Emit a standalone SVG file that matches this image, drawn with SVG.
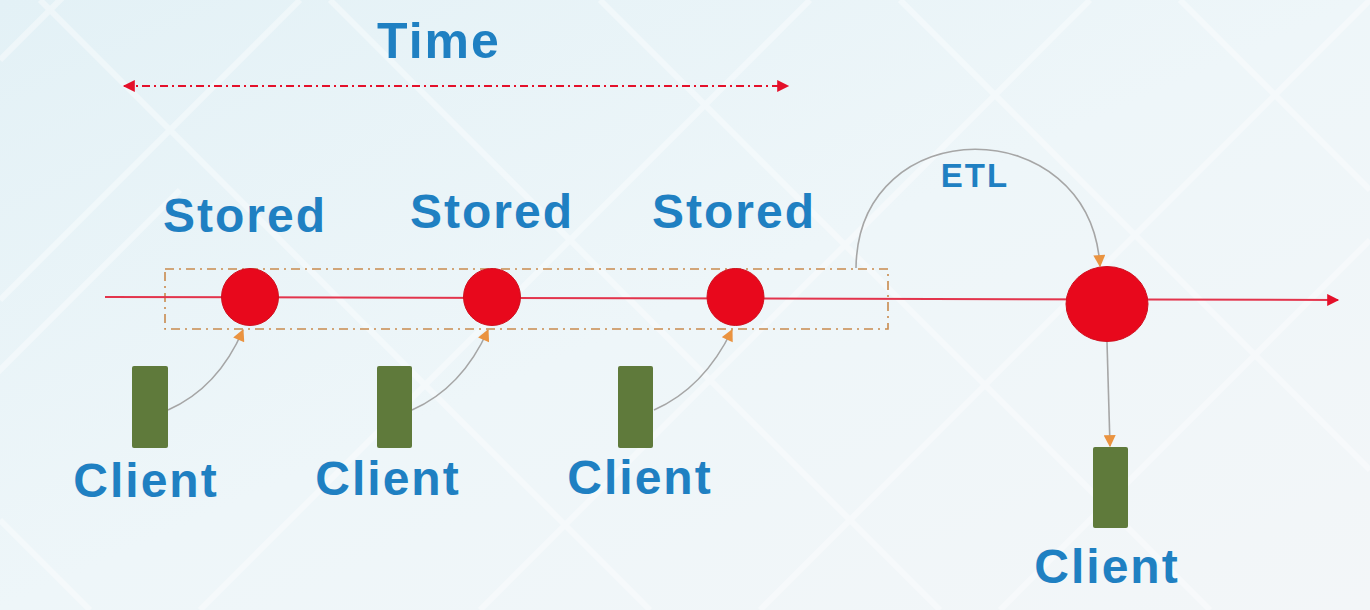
<svg xmlns="http://www.w3.org/2000/svg" width="1370" height="610" viewBox="0 0 1370 610">
  <defs>
    <linearGradient id="bg" x1="0" y1="0" x2="1" y2="1">
      <stop offset="0" stop-color="#e3f1f6"/>
      <stop offset="0.5" stop-color="#eef6f9"/>
      <stop offset="1" stop-color="#f3f6f8"/>
    </linearGradient>
    <marker id="arrOrange" viewBox="0 0 10 10" refX="9" refY="5" markerWidth="14" markerHeight="12" markerUnits="userSpaceOnUse" orient="auto">
      <path d="M0,0 L10,5 L0,10 Z" fill="#ea9340"/>
    </marker>
    <marker id="arrRed" viewBox="0 0 10 10" refX="9" refY="5" markerWidth="14" markerHeight="12" markerUnits="userSpaceOnUse" orient="auto">
      <path d="M0,0 L10,5 L0,10 Z" fill="#e4102a"/>
    </marker>
    <marker id="arrRedStart" viewBox="0 0 10 10" refX="1" refY="5" markerWidth="14" markerHeight="12" markerUnits="userSpaceOnUse" orient="auto">
      <path d="M10,0 L0,5 L10,10 Z" fill="#e4102a"/>
    </marker>
  </defs>
  <style>
    .lbl { font-family: "Liberation Sans", Arial, sans-serif; font-weight: bold; fill: #1f80c2; text-anchor: middle; }
    .big { font-size: 48px; letter-spacing: 2px; }
    .stored { fill: #e8081c; stroke: #d0101e; stroke-width: 1; }
    .client { fill: #5f7a3b; }
    .conn { fill: none; stroke: #a6a6a6; stroke-width: 1.6; }
    .bgline { stroke: #ffffff; stroke-width: 6; opacity: 0.4; fill: none; }
  </style>

  <rect x="0" y="0" width="1370" height="610" fill="url(#bg)"/>
  <g id="background-lines">
    <path class="bgline" d="M0,60 L120,-60 M0,300 L300,0 M200,610 L810,0 M-50,420 L180,190 M40,0 L650,610 M330,0 L940,610 M600,0 L1210,610 M900,0 L1370,470 M1180,0 L1370,190 M1000,610 L1370,240 M760,610 L1370,0 M480,610 L1090,0 M0,520 L90,610"/>
  </g>

  <g id="time-label">
    <text class="lbl" x="439" y="58" font-size="50" letter-spacing="2">Time</text>
  </g>
  <g id="time-arrow">
    <path d="M124,86 L788,86" stroke="#e4102a" stroke-width="1.8" stroke-dasharray="8,4,2,4" fill="none" marker-start="url(#arrRedStart)" marker-end="url(#arrRed)"/>
  </g>

  <g id="window">
    <rect x="165" y="269" width="723" height="60" fill="none" stroke="#c98a4e" stroke-width="1.6" stroke-dasharray="9,5,2,5"/>
  </g>

  <g id="connectors">
    <path id="timeline" d="M105,297 L1338,300" stroke="#e3344c" stroke-width="2" fill="none" marker-end="url(#arrRed)"/>
    <path class="conn" d="M168,410 Q218,388 243,330" marker-end="url(#arrOrange)"/>
    <path class="conn" d="M412,410 Q462,388 488,330" marker-end="url(#arrOrange)"/>
    <path class="conn" d="M654,410 Q704,388 732,330" marker-end="url(#arrOrange)"/>
    <path class="conn" d="M856,268 C858,110 1090,110 1100,266" marker-end="url(#arrOrange)"/>
    <path class="conn" d="M1107,342 L1110,446" marker-end="url(#arrOrange)"/>
  </g>

  <g id="stored1">
    <circle class="stored" cx="250" cy="297" r="28.5"/>
    <text class="lbl big" x="245" y="232">Stored</text>
  </g>
  <g id="stored2">
    <circle class="stored" cx="492" cy="297" r="28.5"/>
    <text class="lbl big" x="492" y="228">Stored</text>
  </g>
  <g id="stored3">
    <circle class="stored" cx="735.5" cy="297" r="28.5"/>
    <text class="lbl big" x="734" y="228">Stored</text>
  </g>
  <g id="etl-target">
    <ellipse class="stored" cx="1107" cy="304" rx="41" ry="37.5"/>
  </g>
  <g id="etl-label">
    <text class="lbl" x="975" y="187" font-size="33" letter-spacing="2">ETL</text>
  </g>

  <g id="client1">
    <rect class="client" x="132" y="366" width="36" height="82" rx="2"/>
    <text class="lbl big" x="146" y="497">Client</text>
  </g>
  <g id="client2">
    <rect class="client" x="377" y="366" width="35" height="82" rx="2"/>
    <text class="lbl big" x="388" y="495">Client</text>
  </g>
  <g id="client3">
    <rect class="client" x="618" y="366" width="35" height="82" rx="2"/>
    <text class="lbl big" x="640" y="494">Client</text>
  </g>
  <g id="client4">
    <rect class="client" x="1093" y="447" width="35" height="81" rx="2"/>
    <text class="lbl big" x="1107" y="583">Client</text>
  </g>
</svg>
